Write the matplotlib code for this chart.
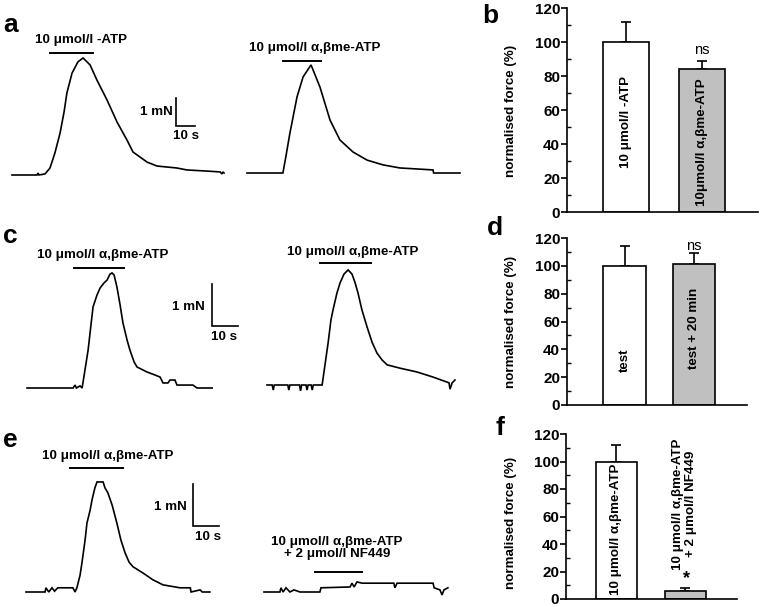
import matplotlib
matplotlib.use("Agg")
import matplotlib.pyplot as plt

plt.rcParams['font.family'] = ['Liberation Sans', 'DejaVu Sans']
plt.rcParams['font.weight'] = 'bold'

W, H = 761, 607

# ---------------- trace data (time in s, force in mN) ----------------
a1_t = [0, 13.2, 13.7, 14.2, 17.4, 20.0, 22.6, 25.3, 27.4, 28.9, 31.6, 34.7, 37.4, 41.1, 44.7, 50.0, 55.3,
        60.5, 63.7, 71.1, 76.3, 86.8, 92.1, 102.6, 109.5, 110.5, 111.0, 111.6]
a1_f = [0, 0, 0.07, 0, 0.04, 0.25, 0.79, 1.5, 2.25, 2.93, 3.64, 4.04, 4.18, 3.93, 3.39, 2.68, 1.89,
        1.25, 0.82, 0.46, 0.32, 0.25, 0.18, 0.14, 0.11, 0.04, 0.11, 0.07]
a2_t = [0, 18.9, 20.5, 22.6, 26.3, 29.5, 33.7, 38.4, 43.7, 48.9, 55.8, 63.2, 71.6, 80.5, 97.9, 98.2, 112.1]
a2_f = [0, 0, 0.6, 1.43, 2.71, 3.43, 3.86, 3.07, 1.89, 1.18, 0.75, 0.46, 0.29, 0.18, 0.11, 0, 0]

c1_t = [0, 17.7, 18.5, 19.0, 20.4, 21.2, 22.3, 23.5, 24.6, 25.4, 26.9, 28.1, 29.6, 30.8, 31.9, 32.7, 33.5,
        34.6, 35.8, 36.9, 38.5, 39.6, 41.2, 42.3, 46.2, 49.2, 51.2, 52.3, 54.2, 55.0, 56.9, 57.7, 63.8, 65.4, 71.2]
c1_f = [0, 0, 0.07, 0.0, 0.05, 0, 0.43, 0.9, 1.5, 1.93, 2.21, 2.38, 2.5, 2.57, 2.71, 2.74, 2.69,
        2.40, 1.98, 1.55, 1.14, 0.9, 0.62, 0.5, 0.38, 0.31, 0.26, 0.12, 0.12, 0.19, 0.19, 0.07, 0.07, 0, 0]
c2_t = [0, 2.0, 2.4, 2.8, 8.0, 8.4, 8.8, 12.5, 12.9, 13.3, 15.0, 15.4, 15.8, 17.0, 17.4, 17.8, 21.2,
        22.3, 23.5, 24.6, 25.4, 26.9, 28.1, 29.6, 31.2, 32.7, 33.8, 35.0, 36.5, 38.5, 40.4, 42.3, 44.2,
        46.2, 51.2, 57.7, 63.8, 69.2, 70.0, 70.4, 71.2, 72.3]
c2_f = [0, 0, -0.12, 0, 0, -0.12, 0, 0, -0.14, 0, 0, -0.12, 0, 0, -0.12, 0, 0,
        0.48, 1.0, 1.55, 1.79, 2.19, 2.43, 2.64, 2.74, 2.64, 2.45, 2.19, 1.79, 1.38, 1.02, 0.76, 0.6,
        0.48, 0.40, 0.31, 0.19, 0.07, 0.05, -0.1, 0.05, 0.12]

e1_t = [0, 7.2, 7.5, 8.6, 9.8, 10.8, 12.0, 12.8, 17.7, 18.5, 19.2, 20.4, 21.1, 22.3, 23.0, 24.2, 24.9,
        26.0, 26.8, 29.1, 29.8, 30.9, 32.5, 34.3, 35.8, 37.4, 38.9, 40.4, 44.2, 47.9, 51.7, 58.1, 62.0,
        62.3, 65.7, 66.5, 69.4]
e1_f = [0, 0, 0.1, 0, 0.1, 0.02, 0.1, 0.1, 0.1, 0, 0.1, 0.4, 0.69, 1.24, 1.64, 1.95, 2.19,
        2.48, 2.62, 2.62, 2.48, 2.36, 2.07, 1.64, 1.24, 0.93, 0.71, 0.6, 0.45, 0.29, 0.17, 0.1, 0.1,
        0, 0.05, 0, 0]
e2_t = [0, 6.0, 6.4, 7.2, 8.3, 9.8, 11.3, 13.6, 21.1, 21.5, 32.5, 33.2, 34.0, 35.1, 37.0, 49.0, 49.4,
        50.2, 63.8, 64.2, 66.4, 67.2, 67.9, 69.4]
e2_f = [0, 0, 0.1, 0, 0.1, 0, 0.05, 0, 0, 0.1, 0.12, 0.21, 0.12, 0.24, 0.21, 0.21, 0.1,
        0.21, 0.21, 0.1, 0.05, -0.07, 0.05, 0.1]

# stimulus bars: (start s, end s, level mN)
a1_stim = (20.0, 42.6, 4.36)
a2_stim = (18.9, 38.9, 4.0)
c1_stim = (18.1, 37.3, 2.86)
c2_stim = (20.4, 40.0, 2.9)
e1_stim = (16.6, 36.6, 2.95)
e2_stim = (19.2, 37.0, 0.48)

# ---------------- bar data ----------------
b_labels = ['10 μmol/l -ATP', '10μmol/l α,βme-ATP']
b_vals = [100, 84]
b_err = [12, 5]
d_labels = ['test', 'test + 20 min']
d_vals = [100, 101]
d_err = [14, 8]
f_labels = ['10 μmol/l α,βme-ATP', '10 μmol/l α,βme-ATP\n+ 2 μmol/l NF449']
f_vals = [100, 6]
f_err = [12, 2]
yticks = [0, 20, 40, 60, 80, 100, 120]

fig = plt.figure(figsize=(W / 100, H / 100), dpi=100)


def px_axes(x0, y0, x1, y1):
    return fig.add_axes([x0 / W, 1 - y1 / H, (x1 - x0) / W, (y1 - y0) / H])


def ftext(x, y, s, **kw):
    kw.setdefault('fontweight', 'bold')
    fig.text(x / W, 1 - y / H, s, **kw)


# ---------------- trace rows ----------------
def trace_row(ytop, ybot, base, pxs, pxmN, traces, scale):
    ax = px_axes(0, ytop, 480, ybot)
    ax.set_xlim(0, 480 / pxs)
    ax.set_ylim(-(ybot - base) / pxmN, (base - ytop) / pxmN)
    ax.axis('off')
    for (t, f, stim, ox, oy) in traces:
        dx = ox / pxs
        dy = (base - oy) / pxmN
        ax.plot([v + dx for v in t], [v + dy for v in f], color='black', lw=1.2,
                solid_joinstyle='miter')
        ax.plot([stim[0] + dx, stim[1] + dx], [stim[2] + dy, stim[2] + dy], color='black', lw=1.4)
    sx, sy = scale
    X = sx / pxs
    Y = (base - sy) / pxmN
    ax.plot([X, X, X + 10], [Y + 1, Y, Y], color='black', lw=1.2, solid_joinstyle='miter')
    return ax


fs_tr = 9.6
trace_row(0, 200, 175, 1.9, 28,
          [(a1_t, a1_f, a1_stim, 12, 175), (a2_t, a2_f, a2_stim, 247, 173)], (176, 126))
ftext(81, 40, '10 μmol/l -ATP', ha='center', va='center', fontsize=fs_tr)
ftext(315, 48, '10 μmol/l α,βme-ATP', ha='center', va='center', fontsize=fs_tr)
ftext(173, 112, '1 mN', ha='right', va='center', fontsize=fs_tr)
ftext(186, 136, '10 s', ha='center', va='center', fontsize=fs_tr)

trace_row(200, 400, 388, 2.6, 42,
          [(c1_t, c1_f, c1_stim, 27, 388), (c2_t, c2_f, c2_stim, 267, 385)], (212, 326))
ftext(103, 255, '10 μmol/l α,βme-ATP', ha='center', va='center', fontsize=fs_tr)
ftext(353, 252, '10 μmol/l α,βme-ATP', ha='center', va='center', fontsize=fs_tr)
ftext(205, 307, '1 mN', ha='right', va='center', fontsize=fs_tr)
ftext(224, 337, '10 s', ha='center', va='center', fontsize=fs_tr)

trace_row(400, 607, 592, 2.65, 42,
          [(e1_t, e1_f, e1_stim, 26, 592), (e2_t, e2_f, e2_stim, 264, 592)], (193, 526))
ftext(108, 456, '10 μmol/l α,βme-ATP', ha='center', va='center', fontsize=fs_tr)
ftext(337, 548, '10 μmol/l α,βme-ATP\n+ 2 μmol/l NF449', ha='center', va='center',
      fontsize=fs_tr, multialignment='center', linespacing=1.1)
ftext(187, 507, '1 mN', ha='right', va='center', fontsize=fs_tr)
ftext(208, 537, '10 s', ha='center', va='center', fontsize=fs_tr)


# ---------------- bar panels ----------------
def bar_panel(box, xlim, width, vals, errs, labels, label_y, label_x, ylab_pos, mark):
    ax = px_axes(*box)
    x = [0, 1]
    ax.bar(x, vals, width=width, color=['white', '#c0c0c0'], edgecolor='black', lw=1.2, zorder=2)
    ax.errorbar(x, vals, yerr=[[0, 0], errs], fmt='none', ecolor='black', elinewidth=1.2,
                capsize=3.5, capthick=1.2, zorder=1)
    ax.set_xlim(*xlim)
    ax.set_ylim(0, 120)
    ax.set_yticks(yticks)
    ax.set_yticks([10, 30, 50, 70, 90, 110], minor=True)
    ax.set_xticks([])
    for s in ('top', 'right'):
        ax.spines[s].set_visible(False)
    ax.spines['left'].set_linewidth(1.2)
    ax.spines['bottom'].set_linewidth(1.2)
    ax.tick_params(axis='y', which='major', direction='out', length=4, width=1.2,
                   labelsize=11, pad=1)
    ax.tick_params(axis='y', which='minor', direction='in', length=3, width=1.0)
    for lab in ax.get_yticklabels():
        lab.set_fontweight('bold')
    ax.set_ylabel('normalised force (%)', fontsize=9.6, fontweight='bold')
    ax.yaxis.set_label_coords(*ylab_pos)
    for i in range(2):
        ax.text(label_x[i], label_y[i], labels[i], rotation=90, ha='center', va='center',
                fontsize=9.6, fontweight='bold', multialignment='center', linespacing=1.05)
    ax.text(mark[0], mark[1], mark[2], ha='center', va='center', fontsize=mark[3],
            fontweight='bold' if mark[2] == '*' else 'normal')
    return ax


bar_panel((567, 8, 758, 212), (-0.77, 1.73), 0.6, b_vals, b_err, b_labels,
          [53, 41], [0, 1], (-0.26, 0.495), (1, 95, 'ns', 10.5))
bar_panel((567, 238, 747, 405), (-0.83, 1.76), 0.61, d_vals, d_err, d_labels,
          [32, 55], [0, 1], (-0.28, 0.497), (1, 114, 'ns', 10.5))
bar_panel((566, 434, 737, 599), (-0.73, 1.75), 0.59, f_vals, f_err, f_labels,
          [51, 69], [0, 0.99], (-0.287, 0.46), (1.02, 15, '*', 13))

# panel letters
for (x, y, s) in [(3, 32, 'a'), (482, 23, 'b'), (3, 243, 'c'), (487, 235, 'd'),
                  (3, 447, 'e'), (496, 435, 'f')]:
    ftext(x, y, s, ha='left', va='baseline', fontsize=19)

fig.savefig('out.png', dpi=100)
